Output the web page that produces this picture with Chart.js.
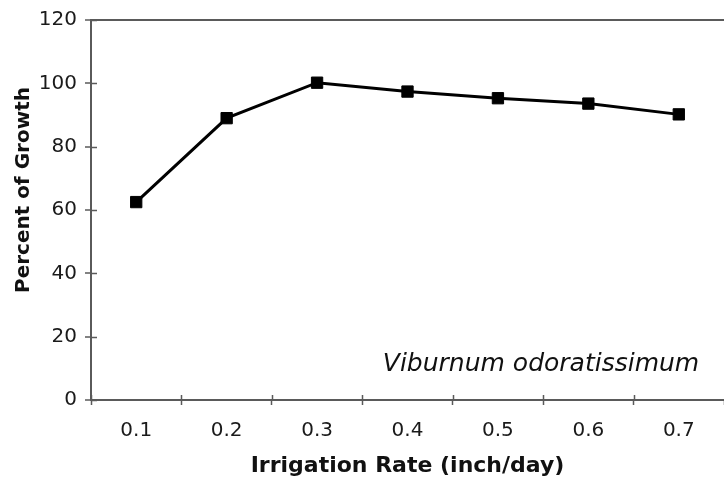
<!DOCTYPE html>
<html lang="en">
<head>
  <meta charset="UTF-8">
  <title>Irrigation Rate vs Percent of Growth</title>
  <script src="https://cdn.jsdelivr.net/npm/chart.js"></script>
  <style>
    html, body { margin: 0; padding: 0; background: #fff; }
    #wrap { width: 724px; height: 485px; }
  </style>
</head>
<body>
  <div id="wrap"><canvas id="growthChart" width="724" height="485"></canvas></div>

  <script>
    // data
    const rates = ['0.1', '0.2', '0.3', '0.4', '0.5', '0.6', '0.7'];
    const growth = [62.5, 89, 100.2, 97.4, 95.3, 93.6, 90.2];
    const yTicks = [0, 20, 40, 60, 80, 100, 120];
    const speciesLabel = 'Viburnum odoratissimum';
    const yTitle = 'Percent of Growth';

    const axisGray = '#5a5a5a';
    const fontFamily = '"DejaVu Sans", Verdana, sans-serif';

    // inward half of the crossing tick marks, y title and species label
    const extras = {
      id: 'extras',
      afterDraw(chart) {
        const { ctx, chartArea, scales } = chart;
        ctx.save();
        ctx.strokeStyle = axisGray;
        ctx.lineWidth = 1.5;
        ctx.beginPath();
        const xs = scales.x;
        const step = xs.getPixelForValue(1) - xs.getPixelForValue(0);
        for (let i = 0; i < rates.length; i++) {
          const px = Math.round(xs.getPixelForValue(i) - step / 2) + 0.5;
          ctx.moveTo(px, chartArea.bottom);
          ctx.lineTo(px, chartArea.bottom - 5);
        }
        yTicks.forEach(v => {
          const py = Math.round(scales.y.getPixelForValue(v)) + 0.5;
          ctx.moveTo(chartArea.left, py);
          ctx.lineTo(chartArea.left + 6, py);
        });
        ctx.stroke();

        ctx.fillStyle = '#111';
        ctx.textAlign = 'center';
        ctx.textBaseline = 'middle';
        ctx.font = 'italic 25px ' + fontFamily;
        ctx.fillText(speciesLabel, 541, 364);

        ctx.font = 'bold 20px ' + fontFamily;
        ctx.translate(24, 190);
        ctx.rotate(-Math.PI / 2);
        ctx.fillText(yTitle, 0, 0);
        ctx.restore();
      }
    };

    new Chart(document.getElementById('growthChart'), {
      type: 'line',
      data: {
        labels: rates,
        datasets: [{
          data: growth,
          borderColor: '#000',
          backgroundColor: '#000',
          borderWidth: 3,
          pointStyle: 'rect',
          pointRadius: 8,
          pointBorderWidth: 1,
          tension: 0
        }]
      },
      options: {
        responsive: false,
        animation: false,
        layout: { autoPadding: false, padding: { top: 18, right: 0, left: 0, bottom: 0 } },
        plugins: {
          legend: { display: false },
          tooltip: { enabled: false }
        },
        scales: {
          x: {
            type: 'category',
            offset: true,
            afterFit: s => { s.height = 85; },
            grid: {
              offset: true,
              drawOnChartArea: false,
              tickLength: 5,
              tickColor: axisGray,
              tickWidth: 1.5
            },
            border: { color: axisGray, width: 2 },
            ticks: {
              color: '#1a1a1a',
              padding: 14,
              font: { family: fontFamily, size: 20 }
            },
            title: {
              display: true,
              text: 'Irrigation Rate (inch/day)',
              color: '#111',
              padding: { top: 2, bottom: 6 },
              font: { family: fontFamily, size: 22, weight: 'bold' }
            }
          },
          y: {
            min: 0,
            max: 120,
            afterFit: s => { s.width = 91; },
            afterBuildTicks: s => { s.ticks = yTicks.map(v => ({ value: v })); },
            grid: {
              color: c => (c.tick && c.tick.value === 120 ? axisGray : 'transparent'),
              lineWidth: 2,
              tickLength: 6,
              tickColor: axisGray,
              tickWidth: 1.5
            },
            border: { color: axisGray, width: 2 },
            ticks: {
              color: '#1a1a1a',
              padding: 8,
              font: { family: fontFamily, size: 20 }
            }
          }
        }
      },
      plugins: [extras]
    });
  </script>
</body>
</html>
